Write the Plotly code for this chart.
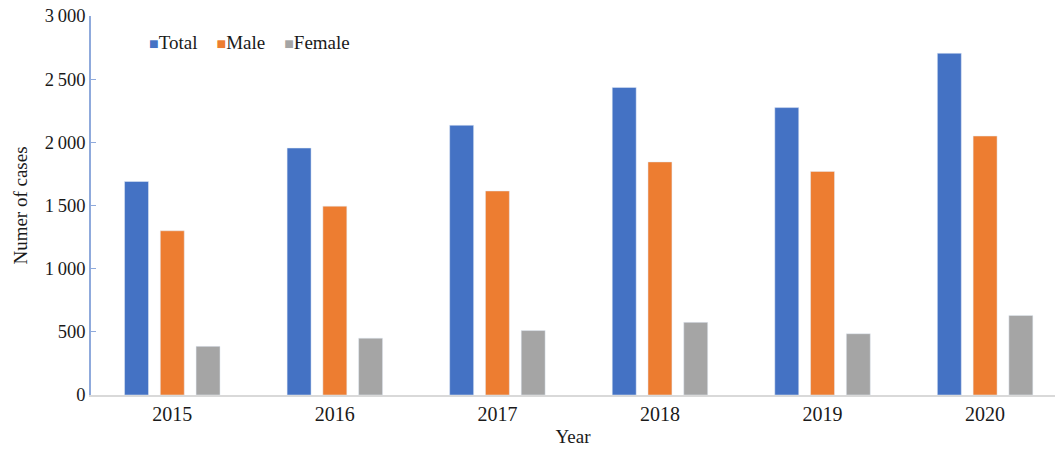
import plotly.graph_objects as go

years = ["2015", "2016", "2017", "2018", "2019", "2020"]
total = [1690, 1955, 2135, 2435, 2275, 2705]
male = [1300, 1495, 1615, 1845, 1770, 2050]
female = [385, 450, 510, 575, 485, 630]
series_names = ["Total", "Male", "Female"]
series_colors = ["#4472C4", "#ED7D31", "#A5A5A5"]
ytick_vals = [0, 500, 1000, 1500, 2000, 2500, 3000]
ytick_text = ["0", "500", "1\u2009000", "1\u2009500", "2\u2009000", "2\u2009500", "3\u2009000"]

font = "Liberation Serif, Times New Roman, serif"

fig = go.Figure()
for name, vals, col in zip(series_names, [total, male, female], series_colors):
    fig.add_trace(go.Bar(name=name, x=years, y=vals, marker_color=col))

# compact legend as text (matches reference's tight Excel-style legend)
legend_parts = []
for name, col in zip(series_names, series_colors):
    legend_parts.append(
        f"<span style='color:{col};font-size:16px'>\u25A0</span>{name}"
    )
legend_text = "\u00a0\u00a0\u00a0\u00a0".join(legend_parts)

fig.update_layout(
    width=1055, height=449,
    margin=dict(l=91, r=0, t=16, b=54),
    paper_bgcolor="white", plot_bgcolor="white",
    barmode="group", bargap=0.34, bargroupgap=0.33,
    font=dict(family=font, size=18, color="#1a1a1a"),
    showlegend=False,
    annotations=[dict(
        text=legend_text, xref="paper", yref="paper",
        x=0.058, y=0.93, xanchor="left", yanchor="middle",
        showarrow=False, font=dict(family=font, size=19, color="#1a1a1a"),
    )],
)
fig.update_xaxes(
    type="category", range=[-0.5, 5.43],
    showline=True, linecolor="#d9d9d9", linewidth=1.5,
    ticks="", showgrid=False,
    title=dict(text="Year", font=dict(size=19), standoff=6),
    tickfont=dict(size=20),
)
fig.update_yaxes(
    range=[0, 3000], tickvals=ytick_vals, ticktext=ytick_text,
    showline=True, linecolor="#8faadc", linewidth=1.5,
    ticks="inside", ticklen=5, tickcolor="#8faadc",
    showgrid=False, zeroline=False,
    title=dict(text="Numer of cases", font=dict(size=19), standoff=12),
    tickfont=dict(size=18.5),
)

fig.write_html("out.html")
